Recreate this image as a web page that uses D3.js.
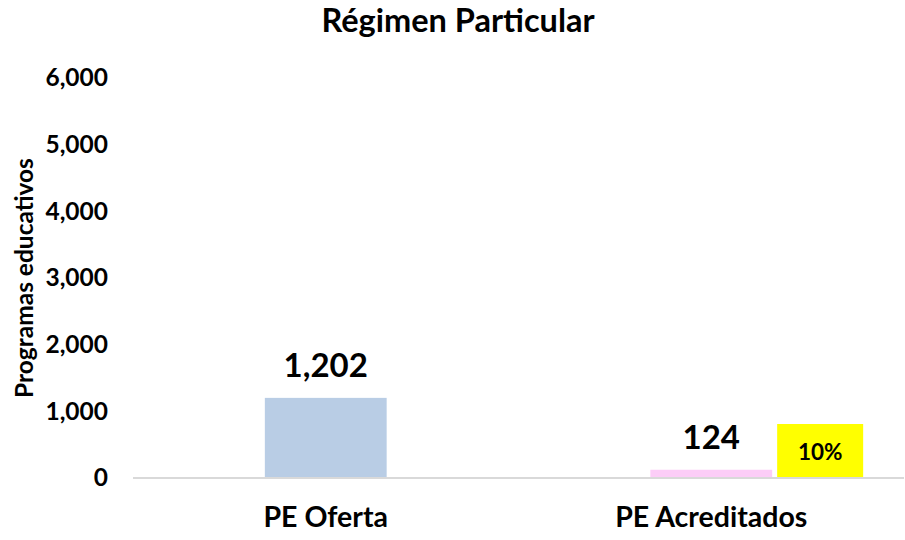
<!DOCTYPE html>
<html>
<head>
<meta charset="utf-8">
<script src="https://cdn.jsdelivr.net/npm/d3@7"></script>
<style>
	body { margin: 0; background: #fff; }
	svg text { font-family: Lato, "Open Sans", sans-serif; font-weight: bold; fill: #000; }
</style>
</head>
<body>
<svg id="chart" width="905" height="540"></svg>
<script>
const categories = ["PE Oferta", "PE Acreditados"];
const values = [1202, 124];
const barColors = ["#b9cde5", "#fccdf7"];
const yTicks = [0, 1000, 2000, 3000, 4000, 5000, 6000];
const shareLabel = "10%";

const svg = d3.select("#chart");
const margin = { top: 78, right: 1, bottom: 62, left: 133 };
const width = 905, height = 540;

const x = d3
	.scaleBand()
	.domain(categories)
	.range([margin.left, width - margin.right])
	.paddingInner(0.684)
	.paddingOuter(0.342);

const y = d3
	.scaleLinear()
	.domain([0, 6000])
	.range([height - margin.bottom, margin.top]);

// title
svg.append("text")
	.attr("x", 458)
	.attr("y", 32)
	.attr("text-anchor", "middle")
	.style("font-size", "32.5px")
	.text("Régimen Particular");

// y axis labels
const yAxis = svg
	.append("g")
	.attr("transform", `translate(${margin.left - 25},0)`)
	.call(d3.axisLeft(y).tickValues(yTicks).tickFormat(d3.format(",")).tickSize(0).tickPadding(0));
yAxis.select(".domain").remove();
yAxis.selectAll("text").style("font-size", "24.5px");

svg.append("text")
	.attr("transform", `translate(33, ${(y(0) + y(6000)) / 2}) rotate(-90)`)
	.attr("text-anchor", "middle")
	.style("font-size", "24.5px")
	.text("Programas educativos");

// bars
svg.selectAll(".bar")
	.data(values)
	.enter()
	.append("rect")
	.attr("class", "bar")
	.attr("x", (d, i) => x(categories[i]))
	.attr("y", (d) => y(d))
	.attr("width", x.bandwidth())
	.attr("height", (d) => y(0) - y(d))
	.attr("fill", (d, i) => barColors[i]);

// baseline
svg.append("line")
	.attr("x1", margin.left)
	.attr("x2", width - margin.right)
	.attr("y1", y(0))
	.attr("y2", y(0))
	.attr("stroke", "#d9d9d9")
	.attr("stroke-width", 2);

// value labels
svg.selectAll(".val")
	.data(values)
	.enter()
	.append("text")
	.attr("class", "val")
	.attr("x", (d, i) => x(categories[i]) + x.bandwidth() / 2)
	.attr("y", (d) => y(d) - 21)
	.attr("text-anchor", "middle")
	.style("font-size", "33px")
	.text((d) => d3.format(",")(d));

// percentage box
const bx = x("PE Acreditados") + x.bandwidth() + 5;
svg.append("rect")
	.attr("x", bx)
	.attr("y", y(0) - 54)
	.attr("width", 86)
	.attr("height", 53)
	.attr("fill", "#ffff00");
svg.append("text")
	.attr("x", bx + 43)
	.attr("y", y(0) - 18)
	.attr("text-anchor", "middle")
	.style("font-size", "22.5px")
	.text(shareLabel);

// category labels
svg.selectAll(".cat")
	.data(categories)
	.enter()
	.append("text")
	.attr("class", "cat")
	.attr("x", (d) => x(d) + x.bandwidth() / 2)
	.attr("y", 527)
	.attr("text-anchor", "middle")
	.style("font-size", "28.5px")
	.text((d) => d);
</script>
</body>
</html>
